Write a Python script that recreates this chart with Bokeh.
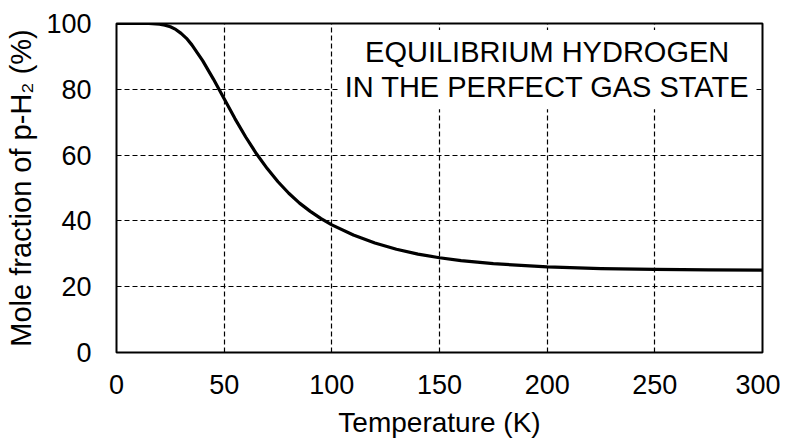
from bokeh.plotting import figure
from bokeh.models import FixedTicker, Range1d, Label
from bokeh.embed import file_html
from bokeh.resources import INLINE

# Data
temperature_K = [0, 10, 15, 20, 22.5, 25, 27.5, 30, 32.5, 35, 40, 45, 50, 55, 60, 65, 70, 75, 80,
                 85, 90, 95, 100, 110, 120, 130, 140, 150, 160, 175, 200, 225, 250, 275, 300]
para_fraction = [100.0, 100.0, 100.0, 99.8, 99.5, 99.0, 98.2, 97.0, 95.5, 93.5, 88.7, 83.1, 77.1,
                 71.1, 65.5, 60.4, 55.9, 51.9, 48.4, 45.4, 42.9, 40.7, 38.8, 35.7, 33.3, 31.4,
                 29.9, 28.8, 27.9, 27.0, 26.0, 25.5, 25.25, 25.1, 25.05]
x_ticks = [0, 50, 100, 150, 200, 250, 300]
y_ticks = [0, 20, 40, 60, 80, 100]
annotation = "EQUILIBRIUM HYDROGEN\nIN THE PERFECT GAS STATE"

FONT = "Liberation Sans"

p = figure(width=780, height=440, output_backend="svg", toolbar_location=None,
           x_range=Range1d(0, 300), y_range=Range1d(0, 100),
           min_border_left=116, min_border_right=18, min_border_top=23, min_border_bottom=88)

p.line(temperature_K, para_fraction, line_color="black", line_width=3.2, line_join="round")

p.xaxis.ticker = FixedTicker(ticks=x_ticks)
p.yaxis.ticker = FixedTicker(ticks=y_ticks)

for ax in (p.xaxis, p.yaxis):
    ax.axis_line_color = None
    ax.major_tick_line_color = None
    ax.minor_tick_line_color = None
    ax.major_tick_out = 0
    ax.major_tick_in = 0
    ax.major_label_text_font = FONT
    ax.major_label_text_font_size = "27px"
    ax.major_label_text_color = "black"
    ax.axis_label_text_font = FONT
    ax.axis_label_text_font_style = "normal"
    ax.axis_label_text_color = "black"

p.xaxis.axis_label = "Temperature (K)"
p.xaxis.axis_label_text_font_size = "28px"
p.xaxis.major_label_standoff = 22
p.xaxis.axis_label_standoff = 10

p.yaxis.axis_label = "Mole fraction of p-H\u2082 (%)"
p.yaxis.axis_label_text_font_size = "29px"
p.yaxis.major_label_standoff = 25
p.yaxis.axis_label_standoff = 6

for g in (p.xgrid, p.ygrid):
    g.grid_line_color = "black"
    g.grid_line_width = 1.2
    g.grid_line_dash = "5 3"

p.outline_line_color = "black"
p.outline_line_width = 2
p.background_fill_color = "white"
p.border_fill_color = "white"

lab = Label(x=200, y=86, text=annotation, text_align="center", text_baseline="middle",
            text_font=FONT, text_font_size="29px", text_color="black", text_line_height=1.1,
            background_fill_color="white", padding=6)
p.add_layout(lab)

open("out.html", "w").write(file_html(p, INLINE))
